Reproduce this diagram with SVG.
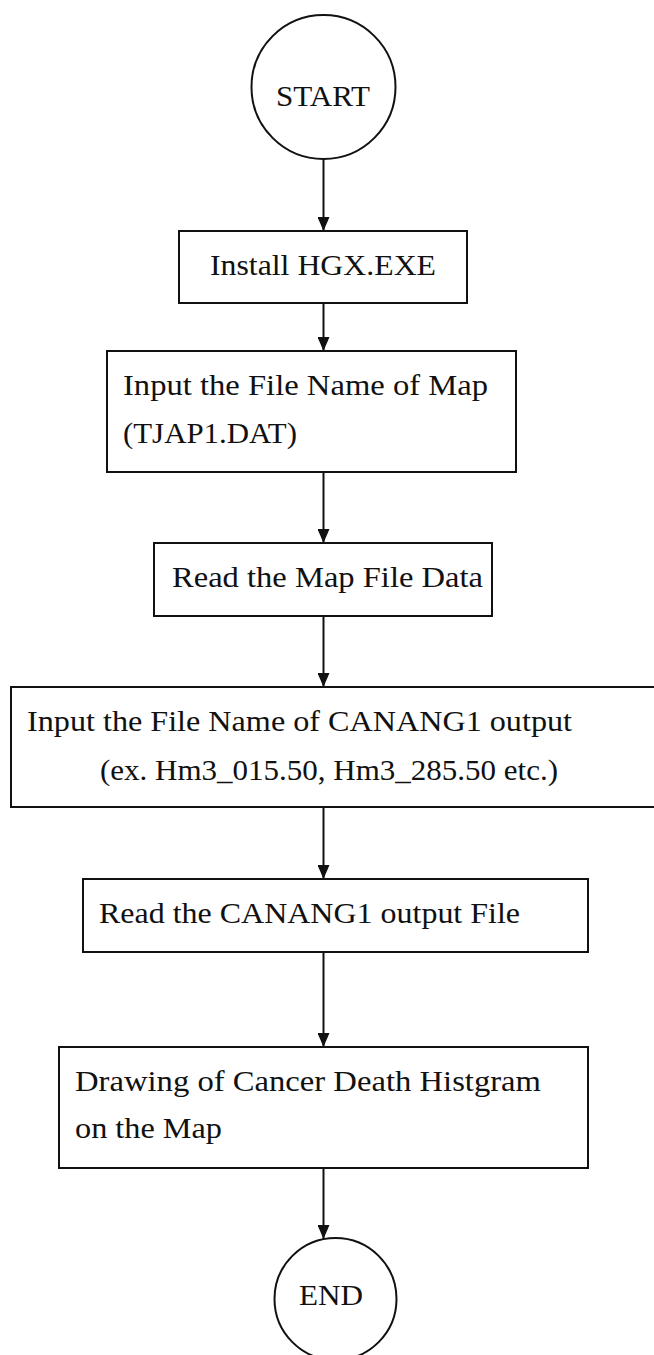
<svg xmlns="http://www.w3.org/2000/svg" width="654" height="1355" viewBox="0 0 654 1355">
  <style>
    .shape { fill: #ffffff; stroke: #111111; stroke-width: 2; }
    .label { font-family: "Liberation Serif", "Times New Roman", serif; font-size: 30px; fill: #111111; }
    .link { stroke: #111111; stroke-width: 2; fill: none; marker-end: url(#arrow); }
  </style>
  <defs>
    <marker id="arrow" viewBox="0 0 14 12" refX="14" refY="6" markerWidth="14" markerHeight="12" markerUnits="userSpaceOnUse" orient="auto">
      <path d="M0,0 L14,6 L0,12 Z" fill="#111111"/>
    </marker>
  </defs>
  <rect width="654" height="1355" fill="#ffffff"/>

  <g id="connectors">
    <line class="link" x1="323.5" y1="159" x2="323.5" y2="231"/>
    <line class="link" x1="323.5" y1="303" x2="323.5" y2="351"/>
    <line class="link" x1="323.5" y1="472" x2="323.5" y2="543"/>
    <line class="link" x1="323.5" y1="616" x2="323.5" y2="687"/>
    <line class="link" x1="323.5" y1="807" x2="323.5" y2="879"/>
    <line class="link" x1="323.5" y1="952" x2="323.5" y2="1047"/>
    <line class="link" x1="323.5" y1="1168" x2="323.5" y2="1239"/>
  </g>

  <g id="start">
    <circle class="shape" cx="323.5" cy="87" r="72"/>
    <text class="label" x="276" y="106" textLength="94" lengthAdjust="spacingAndGlyphs">START</text>
  </g>

  <g id="install">
    <rect class="shape" x="179" y="231" width="288" height="72"/>
    <text class="label" x="210" y="275" textLength="226" lengthAdjust="spacingAndGlyphs">Install HGX.EXE</text>
  </g>

  <g id="input-map">
    <rect class="shape" x="107" y="351" width="409" height="121"/>
    <text class="label" x="123" y="395" textLength="365" lengthAdjust="spacingAndGlyphs">Input the File Name of Map</text>
    <text class="label" x="123" y="442.5" textLength="174" lengthAdjust="spacingAndGlyphs">(TJAP1.DAT)</text>
  </g>

  <g id="read-map">
    <rect class="shape" x="154" y="543" width="338" height="73"/>
    <text class="label" x="172" y="587" textLength="311" lengthAdjust="spacingAndGlyphs">Read the Map File Data</text>
  </g>

  <g id="input-canang">
    <rect class="shape" x="11" y="687" width="660" height="120"/>
    <text class="label" x="27" y="731" textLength="545" lengthAdjust="spacingAndGlyphs">Input the File Name of CANANG1 output</text>
    <text class="label" x="100" y="780" textLength="458" lengthAdjust="spacingAndGlyphs">(ex. Hm3_015.50, Hm3_285.50 etc.)</text>
  </g>

  <g id="read-canang">
    <rect class="shape" x="83" y="879" width="505" height="73"/>
    <text class="label" x="99" y="923" textLength="421" lengthAdjust="spacingAndGlyphs">Read the CANANG1 output File</text>
  </g>

  <g id="drawing">
    <rect class="shape" x="59" y="1047" width="529" height="121"/>
    <text class="label" x="75" y="1090.5" textLength="466" lengthAdjust="spacingAndGlyphs">Drawing of Cancer Death Histgram</text>
    <text class="label" x="75" y="1138" textLength="147" lengthAdjust="spacingAndGlyphs">on the Map</text>
  </g>

  <g id="end">
    <circle class="shape" cx="335.5" cy="1299" r="61"/>
    <text class="label" x="299" y="1305" textLength="64" lengthAdjust="spacingAndGlyphs">END</text>
  </g>
</svg>
